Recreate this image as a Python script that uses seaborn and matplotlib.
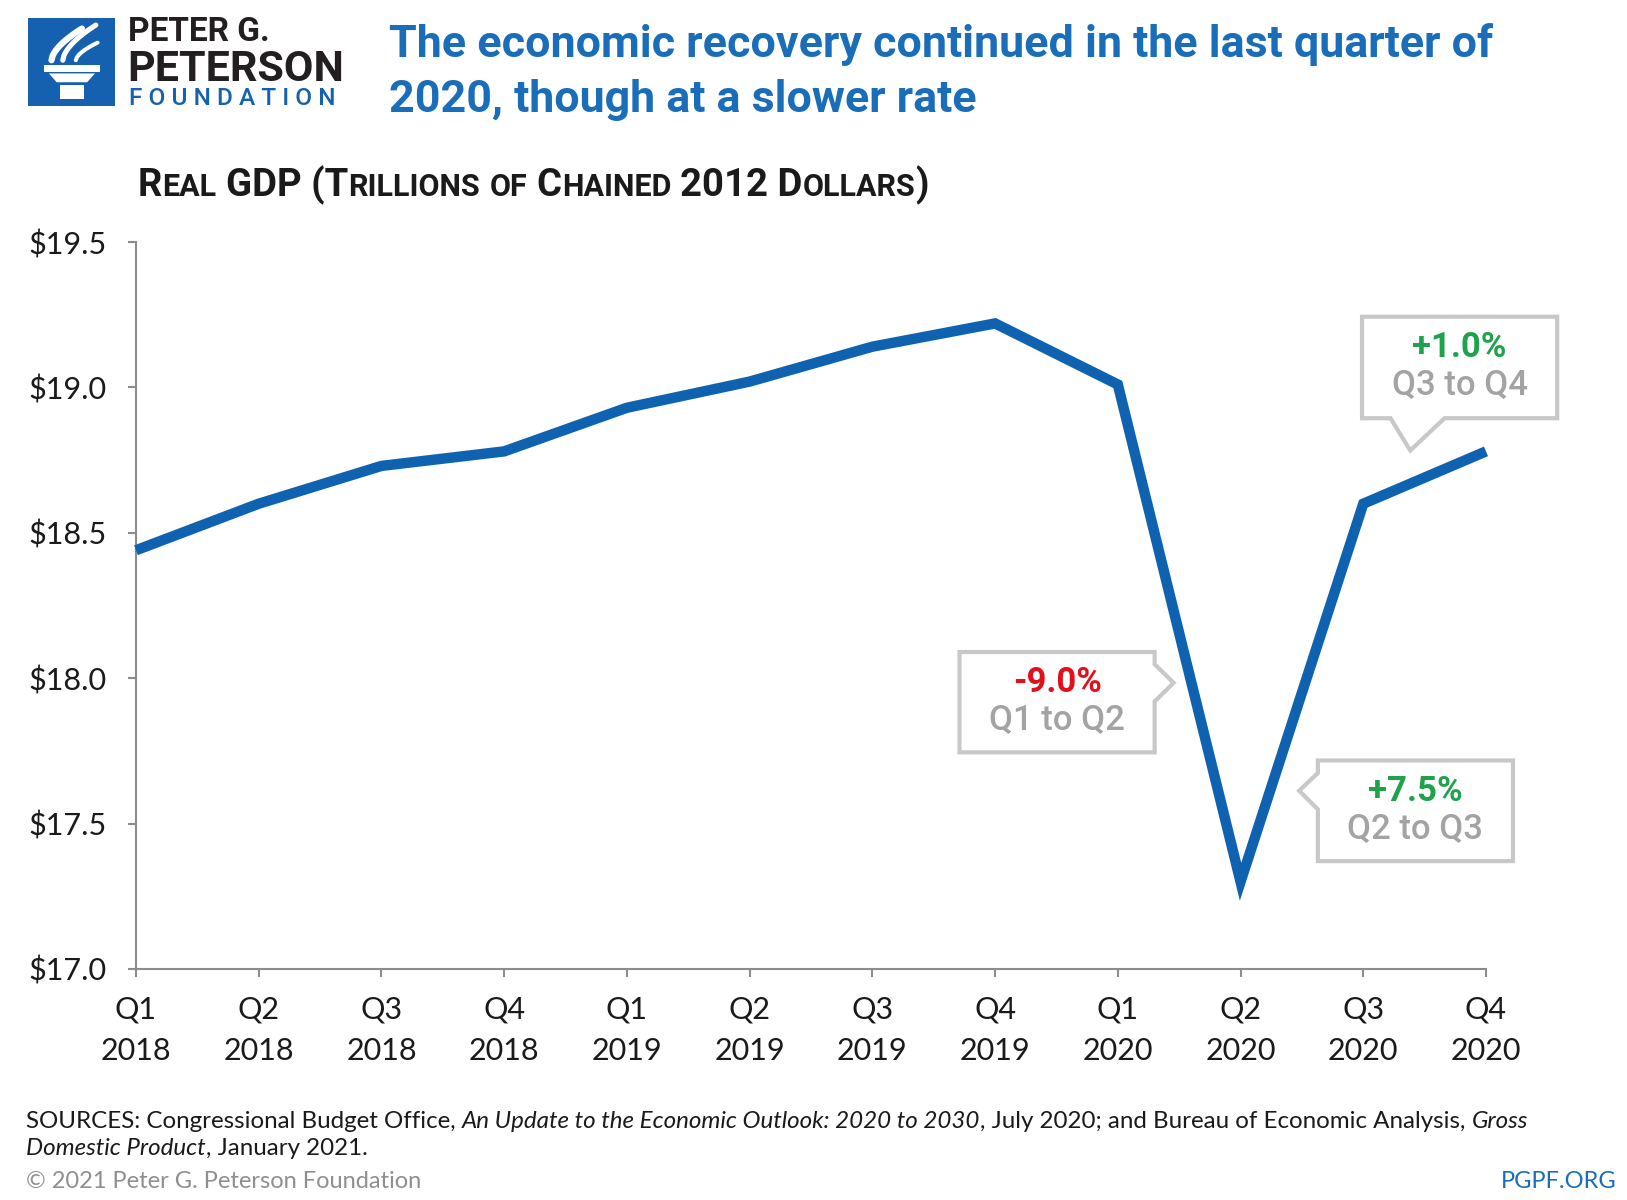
import numpy as np
import pandas as pd
import seaborn as sns
import matplotlib.pyplot as plt
from matplotlib.patches import Polygon

# data
quarters = ["Q1", "Q2", "Q3", "Q4"] * 3
years = ["2018"] * 4 + ["2019"] * 4 + ["2020"] * 4
gdp = [18.44, 18.60, 18.73, 18.78, 18.93, 19.02, 19.14, 19.22, 19.01, 17.30, 18.60, 18.78]

y_ticks = [17.0, 17.5, 18.0, 18.5, 19.0, 19.5]
y_labels = ["\\$17.0", "\\$17.5", "\\$18.0", "\\$18.5", "\\$19.0", "\\$19.5"]

callout_pcts = ["-9.0%", "+7.5%", "+1.0%"]
callout_spans = ["Q1 to Q2", "Q2 to Q3", "Q3 to Q4"]
callout_colors = ["#e3101c", "#1ea24c", "#1ea24c"]

title_lines = ["The economic recovery continued in the last quarter of",
               "2020, though at a slower rate"]
subtitle = "Real GDP (Trillions of Chained 2012 Dollars)"

BLUE = "#0f62b0"
TITLE_BLUE = "#1a6db8"
GRAY_TXT = "#a3a3a3"
BOX_EDGE = "#c8c8c8"

sns.set_theme(style="ticks")
plt.rcParams["font.family"] = ["Roboto", "DejaVu Sans"]

W, H = 1627, 1200
fig = plt.figure(figsize=(W / 100, H / 100), dpi=100)
fig.patch.set_facecolor("white")
renderer = fig.canvas.get_renderer()


def text_w(s, kw):
    t = fig.text(0, 0, s, **kw)
    w = t.get_window_extent(renderer).width
    t.remove()
    return w


def adv(s, kw):
    if not s:
        return 0.0
    return text_w("|" + s + "|", kw) - text_w("||", kw)


def put_runs(x_px, y_px, runs, **common):
    x = x_px
    for s, props in runs:
        kw = {**common, **props}
        body = s.lstrip()
        x += adv(s[:len(s) - len(body)], kw)
        fig.text(x / W, 1 - y_px / H, body, va="baseline", ha="left", **kw)
        x += adv(body, kw)
    return x


def small_caps(s, big, small):
    runs = []
    for ch in s:
        low = ch.islower()
        if runs and runs[-1][1] == low:
            runs[-1][0] += ch
        else:
            runs.append([ch, low])
    return [(r.upper(), {"fontsize": small if low else big}) for r, low in runs]


# ---- main chart
ax = fig.add_axes([136 / W, 1 - 969 / H, 1350 / W, 727 / H])
df = pd.DataFrame({"pos": np.arange(len(gdp)), "gdp": gdp})
sns.lineplot(data=df, x="pos", y="gdp", ax=ax, color=BLUE, linewidth=7.5,
             solid_joinstyle="miter", solid_capstyle="butt", clip_on=False, zorder=3)

ax.set_xlim(0, len(gdp) - 1)
ax.set_ylim(17.0, 19.5)
ax.set_xticks(df["pos"])
ax.set_xticklabels([f"{q}\n{y}" for q, y in zip(quarters, years)],
                   fontsize=22, family=["Lato", "DejaVu Sans"], linespacing=1.6, color="#1a1a1a")
ax.set_yticks(y_ticks)
ax.set_yticklabels(y_labels, fontsize=22, family=["Lato", "DejaVu Sans"], color="#1a1a1a")
ax.set_xlabel("")
ax.set_ylabel("")
sns.despine(ax=ax)
for sp in ["left", "bottom"]:
    ax.spines[sp].set_color("#8c8c8c")
    ax.spines[sp].set_linewidth(1.5)
ax.tick_params(axis="both", color="#8c8c8c", width=1.5, length=6)
ax.tick_params(axis="y", pad=15)
ax.tick_params(axis="x", pad=13)

# ---- callouts (data coordinates)
boxes = [
    dict(x0=6.71, x1=8.30, y0=17.745, y1=18.09, side="right", tip=(8.455, 17.984), b=(17.92, 18.048)),
    dict(x0=9.63, x1=11.22, y0=17.371, y1=17.717, side="left", tip=(9.478, 17.613), b=(17.549, 17.674)),
    dict(x0=9.99, x1=11.58, y0=18.894, y1=19.243, side="bottom", tip=(10.383, 18.783), b=(10.222, 10.662)),
]
for box, pct, span, col in zip(boxes, callout_pcts, callout_spans, callout_colors):
    x0, x1, y0, y1 = box["x0"], box["x1"], box["y0"], box["y1"]
    b0, b1 = box["b"]
    tip = box["tip"]
    if box["side"] == "right":
        pts = [(x0, y0), (x1, y0), (x1, b0), tip, (x1, b1), (x1, y1), (x0, y1)]
    elif box["side"] == "left":
        pts = [(x0, y0), (x1, y0), (x1, y1), (x0, y1), (x0, b1), tip, (x0, b0)]
    else:
        pts = [(x0, y0), (b0, y0), tip, (b1, y0), (x1, y0), (x1, y1), (x0, y1)]
    ax.add_patch(Polygon(pts, closed=True, facecolor="white", edgecolor=BOX_EDGE,
                         linewidth=3, joinstyle="miter", clip_on=False, zorder=4))
    cx = (x0 + x1) / 2
    cy = (y0 + y1) / 2
    ax.text(cx, cy + 0.068, pct, ha="center", va="center", fontsize=25,
            fontweight="bold", color=col, zorder=5)
    ax.text(cx, cy - 0.063, span, ha="center", va="center", fontsize=25,
            fontweight="medium", color=GRAY_TXT, zorder=5)

# ---- logo
lax = fig.add_axes([28 / W, 1 - 106 / H, 87 / W, 88 / H])
lax.set_xlim(0, 1)
lax.set_ylim(0, 1)
lax.set_facecolor("#1561b0")
lax.set_xticks([])
lax.set_yticks([])
for sp in lax.spines.values():
    sp.set_visible(False)
torch = [
    [(0.18, 0.47), (0.83, 0.47), (0.83, 0.39), (0.18, 0.39)],
    [(0.24, 0.37), (0.77, 0.37), (0.68, 0.27), (0.33, 0.27)],
    [(0.37, 0.24), (0.64, 0.24), (0.64, 0.08), (0.37, 0.08)],
]
for p in torch:
    lax.add_patch(Polygon(p, closed=True, facecolor="white", edgecolor="none"))
t = np.linspace(0, 1, 30)
for k, (sx, sy, ex, ey) in enumerate([(0.27, 0.52, 0.62, 0.88), (0.40, 0.52, 0.78, 0.92), (0.55, 0.52, 0.80, 0.72)]):
    xs = sx + (ex - sx) * t
    ys = sy + (ey - sy) * t ** 0.6
    lax.plot(xs, ys, color="white", linewidth=4.5 - k * 0.8, solid_capstyle="round")

logo_black = "#231f20"
fig.text(128 / W, 1 - 41 / H, "PETER G.", fontsize=24, fontweight="bold", color=logo_black, va="baseline")
fig.text(127 / W, 1 - 81 / H, "PETERSON", fontsize=31, fontweight="bold", color=logo_black, va="baseline")
fig.text(129 / W, 1 - 105 / H, "F O U N D A T I O N", fontsize=17.6, fontweight="medium",
         color="#1561b0", va="baseline")

# ---- title & subtitle
fig.text(389 / W, 1 - 57 / H, title_lines[0], fontsize=32.3, fontweight="bold", color=TITLE_BLUE, va="baseline")
fig.text(389 / W, 1 - 112 / H, title_lines[1], fontsize=32.3, fontweight="bold", color=TITLE_BLUE, va="baseline")
put_runs(138, 196, small_caps(subtitle, 27.5, 22), fontweight="bold", color="#1a1a1a")

# ---- footer
foot = dict(fontsize=17.4, color="#1a1a1a", family=["Lato", "DejaVu Sans"])
ita = {"fontstyle": "italic"}
put_runs(26, 1128, [("SOURCES: Congressional Budget Office, ", {}),
                    ("An Update to the Economic Outlook: 2020 to 2030", ita),
                    (", July 2020; and Bureau of Economic Analysis, ", {}),
                    ("Gross", ita)], **foot)
put_runs(26, 1155, [("Domestic Product", ita), (", January 2021.", {})], **foot)
fig.text(26 / W, 1 - 1188 / H, "© 2021 Peter G. Peterson Foundation", fontsize=17,
         family=["Lato", "DejaVu Sans"], color="#8f8f8f", va="baseline")
fig.text(1617 / W, 1 - 1188 / H, "PGPF.ORG", fontsize=17, family=["Lato", "DejaVu Sans"],
         color=TITLE_BLUE, va="baseline", ha="right")

fig.savefig("out.png", dpi=100)
